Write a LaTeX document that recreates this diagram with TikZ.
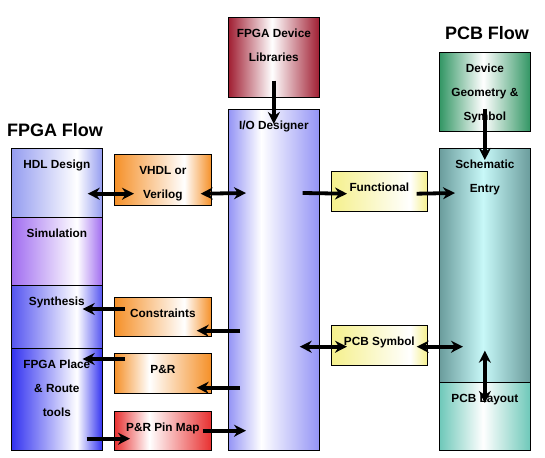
\documentclass[tikz,border=0pt]{standalone}
\usepackage{fontspec}
\setmainfont{Liberation Sans}
\usetikzlibrary{positioning,arrows.meta}

\colorlet{edgecol}{blue}
\colorlet{midcol}{white}
% horizontal shading: edge colour, white band at #2, edge colour
\newcommand{\mkshade}[2]{\pgfdeclarehorizontalshading[edgecol,midcol]{#1}{100bp}{color(0bp)=(edgecol); color(25bp)=(edgecol); color(#2bp)=(midcol); color(75bp)=(edgecol); color(100bp)=(edgecol)}}
\mkshade{shadeR}{61}
\mkshade{shadeM}{49}
\mkshade{shadeQ}{43}
\mkshade{shadeY}{66}

\definecolor{hdlblue}{HTML}{949CF0}
\definecolor{simpurple}{HTML}{A06CF0}
\definecolor{synblue}{HTML}{5454F0}
\definecolor{placeblue}{HTML}{3232F0}
\definecolor{iodblue}{HTML}{9494F5}
\definecolor{liborange}{HTML}{F59028}
\definecolor{pinred}{HTML}{E83030}
\definecolor{libred}{HTML}{A01E32}
\definecolor{funcyellow}{HTML}{F5F08C}
\definecolor{geogreen}{HTML}{329664}
\definecolor{schteal}{HTML}{6A9C9C}
\definecolor{schcyan}{HTML}{C8F8F8}
\definecolor{layteal}{HTML}{6EC8B9}

\begin{document}
\begin{tikzpicture}
[x=1pt, y=-1pt,
blk/.style={draw, line width=0.7pt, anchor=north west, inner sep=0pt, shade},
edge/.style={/utils/exec={\colorlet{edgecol}{#1}}},
mid/.style={/utils/exec={\colorlet{midcol}{#1}}},
lbl/.style={font=\bfseries\fontsize{11.8}{24}\selectfont, align=center, inner sep=0pt},
ttl/.style={font=\bfseries\fontsize{18}{20}\selectfont, inner sep=0pt},
arr/.style={line width=3.8pt, -{Stealth[length=12pt,width=12pt]}},
dbl/.style={line width=3.8pt, {Stealth[length=12pt,width=12pt]}-{Stealth[length=12pt,width=12pt]}}]
\useasboundingbox (0,0) rectangle (545,457);
\node[ttl] (fpga-t) at (55,130) {FPGA Flow};
\node[ttl] (pcb-t) at (487,33) {PCB Flow};
% FPGA flow column
\node[blk, edge=hdlblue, shading=shadeR, minimum width=91pt, minimum height=69pt] (hdl) at (11,148) {};
\node[blk, edge=simpurple, shading=shadeR, minimum width=91pt, minimum height=68pt] (sim) at (11,217) {};
\node[blk, edge=synblue, shading=shadeR, minimum width=91pt, minimum height=63pt] (syn) at (11,285) {};
\node[blk, edge=placeblue, shading=shadeR, minimum width=91pt, minimum height=102pt] (place) at (11,348) {};
% files between the flows
\node[blk, edge=liborange, shading=shadeR, minimum width=97pt, minimum height=51pt] (vhdl) at (114,154) {};
\node[blk, edge=liborange, shading=shadeR, minimum width=97pt, minimum height=39pt] (cons) at (114,297) {};
\node[blk, edge=liborange, shading=shadeQ, minimum width=97pt, minimum height=40pt] (pr) at (114,353) {};
\node[blk, edge=pinred, shading=shadeQ, minimum width=97pt, minimum height=39pt] (pinmap) at (114,411) {};
% I/O Designer
\node[blk, edge=libred, shading=shadeM, minimum width=91pt, minimum height=80pt] (lib) at (228,17) {};
\node[blk, edge=iodblue, shading=shadeQ, minimum width=91pt, minimum height=341pt] (iod) at (228,109) {};
\node[blk, edge=funcyellow, shading=shadeY, minimum width=96pt, minimum height=40pt] (func) at (331,171) {};
\node[blk, edge=funcyellow, shading=shadeY, minimum width=96pt, minimum height=40pt] (pcbsym) at (331,325) {};
% PCB flow column
\node[blk, edge=geogreen, shading=shadeM, minimum width=91pt, minimum height=79pt] (geo) at (439,52) {};
\node[blk, edge=schteal, mid=schcyan, shading=shadeM, minimum width=91pt, minimum height=234pt] (sch) at (439,148) {};
\node[blk, edge=layteal, shading=shadeM, minimum width=91pt, minimum height=68pt] (lay) at (439,382) {};
% labels
\node[lbl, below=12pt of hdl.north] (hdl-t) {HDL Design};
\node[lbl, below=12pt of sim.north] (sim-t) {Simulation};
\node[lbl, below=12pt of syn.north] (syn-t) {Synthesis};
\node[lbl, below=12pt of place.north] (place-t) {FPGA Place\\\& Route\\tools};
\node[lbl, below=12pt of vhdl.north] (vhdl-t) {VHDL or\\Verilog};
\node[lbl, below=12pt of cons.north] (cons-t) {Constraints};
\node[lbl, below=12pt of pr.north] (pr-t) {P\&R};
\node[lbl, below=12pt of pinmap.north] (pinmap-t) {P\&R Pin Map};
\node[lbl, below=12pt of lib.north] (lib-t) {FPGA Device\\Libraries};
\node[lbl, below=12pt of iod.north] (iod-t) {I/O Designer};
\node[lbl, below=12pt of func.north] (func-t) {Functional};
\node[lbl, below=12pt of pcbsym.north] (pcbsym-t) {PCB Symbol};
\node[lbl, below=12pt of geo.north] (geo-t) {Device\\Geometry \&\\Symbol};
\node[lbl, below=12pt of sch.north] (sch-t) {Schematic\\Entry};
\node[lbl, below=12pt of lay.north] (lay-t) {PCB Layout};
% connectors
\draw[arr] ([yshift=17pt]lib.south) -- ([yshift=-15pt]iod.north);
\draw[dbl] ([shift={(-15pt,24pt)}]hdl.south east) -- ([shift={(20pt,12pt)}]vhdl.south west);
\draw[dbl] ([shift={(-11pt,12pt)}]vhdl.south east) -- ([shift={(18pt,-84pt)}]iod.north west);
\draw[arr] ([shift={(-17pt,-84pt)}]iod.north east) -- ([shift={(16pt,18pt)}]func.south west);
\draw[arr] ([shift={(-11pt,18pt)}]func.south east) -- ([shift={(16pt,-45pt)}]sch.north west);
\draw[arr] ([shift={(11pt,-12pt)}]cons.north west) -- ([shift={(-20pt,-24pt)}]syn.north east);
\draw[arr] ([shift={(12pt,120pt)}]iod.south west) -- ([shift={(-15pt,6pt)}]cons.south east);
\draw[arr] ([shift={(11pt,-6pt)}]pr.north west) -- ([shift={(-20pt,-11pt)}]place.north east);
\draw[arr] ([shift={(12pt,63pt)}]iod.south west) -- ([shift={(-15pt,6pt)}]pr.south east);
\draw[arr] ([shift={(-16pt,12pt)}]place.south east) -- ([shift={(16pt,12pt)}]pinmap.south west);
\draw[arr] ([shift={(-9pt,20pt)}]pinmap.south east) -- ([shift={(18pt,20pt)}]iod.south west);
\draw[dbl] ([shift={(-20pt,104pt)}]iod.south east) -- ([shift={(16pt,19pt)}]pcbsym.south west);
\draw[dbl] ([shift={(-11pt,19pt)}]pcbsym.south east) -- ([shift={(24pt,36pt)}]sch.south west);
\draw[dbl] ([yshift=32pt]sch.south) -- ([yshift=-21pt]lay.north);
\draw[arr] ([yshift=23pt]geo.south) -- ([yshift=-12pt]sch.north);
\end{tikzpicture}
\end{document}
